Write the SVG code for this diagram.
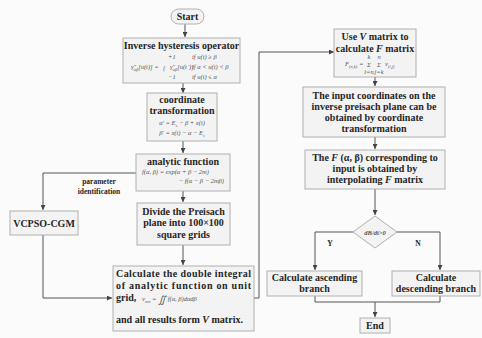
<svg xmlns="http://www.w3.org/2000/svg" width="482" height="338" viewBox="0 0 482 338">
  <defs>
    <marker id="arr" viewBox="0 0 6 6" refX="6" refY="3" markerWidth="5" markerHeight="5" markerUnits="userSpaceOnUse" orient="auto">
      <path d="M0,0 L6,3 L0,6 z" fill="#444"/>
    </marker>
    <style>
      .box { fill: #f3f3f3; stroke: #b0b0b0; stroke-width: 1; }
      .ln { fill: none; stroke: #555; stroke-width: 1; }
      .t { font-family: "Liberation Serif", "Times New Roman", serif; font-weight: bold; font-size: 10px; fill: #262626; text-anchor: middle; }
      .tl { font-family: "Liberation Serif", "Times New Roman", serif; font-weight: bold; font-size: 10px; fill: #262626; }
      .f { font-family: "Liberation Serif", "Times New Roman", serif; font-size: 6.5px; font-style: italic; fill: #555; }
      .fm { font-family: "Liberation Serif", "Times New Roman", serif; font-size: 6.5px; font-style: italic; fill: #555; text-anchor: middle; }
      .s { font-family: "Liberation Serif", "Times New Roman", serif; font-weight: bold; font-size: 7.5px; fill: #262626; text-anchor: middle; }
      .i { font-style: italic; }
    </style>
  </defs>
  <rect width="482" height="338" fill="#fbfbfb"/>

  <!-- connectors -->
  <g id="connectors">
    <line class="ln" x1="185" y1="24" x2="185" y2="37" marker-end="url(#arr)"/>
    <line class="ln" x1="183" y1="83" x2="183" y2="93" marker-end="url(#arr)"/>
    <line class="ln" x1="183" y1="141" x2="183" y2="153" marker-end="url(#arr)"/>
    <line class="ln" x1="183" y1="191" x2="183" y2="202" marker-end="url(#arr)"/>
    <line class="ln" x1="183" y1="245" x2="183" y2="265" marker-end="url(#arr)"/>
    <!-- parameter identification path -->
    <polyline class="ln" points="136,173 43,173 43,210" marker-end="url(#arr)"/>
    <polyline class="ln" points="43,235 43,298 112,298" marker-end="url(#arr)"/>
    <!-- V matrix hand-over to the right column -->
    <polyline class="ln" points="254,298 259,298 259,52 334,52" marker-end="url(#arr)"/>
    <line class="ln" x1="375" y1="77" x2="375" y2="86" marker-end="url(#arr)"/>
    <line class="ln" x1="375" y1="137" x2="375" y2="149" marker-end="url(#arr)"/>
    <line class="ln" x1="375" y1="189" x2="375" y2="215" marker-end="url(#arr)"/>
    <polyline class="ln" points="353,232 315,232 315,270" marker-end="url(#arr)"/>
    <polyline class="ln" points="397,232 440,232 440,270" marker-end="url(#arr)"/>
    <polyline class="ln" points="315,296 315,302 440,302 440,296"/>
    <line class="ln" x1="375" y1="302" x2="375" y2="317" marker-end="url(#arr)"/>
    <text class="s" x="99" y="184">parameter</text>
    <text class="s" x="99" y="194">identification</text>
    <text class="s" x="330" y="246" font-size="8.5">Y</text>
    <text class="s" x="418" y="246" font-size="8.5">N</text>
  </g>

  <g id="start">
    <rect class="box" x="171" y="9" width="33" height="15" rx="7.5"/>
    <text class="t" x="187.5" y="20">Start</text>
  </g>

  <g id="inverse-operator">
    <rect class="box" x="123" y="38" width="117" height="45"/>
    <text class="t" x="181.5" y="49">Inverse hysteresis operator</text>
    <text class="f" x="168" y="59">+1</text>
    <text class="f" x="192" y="59">if u(t) ≥ β</text>
    <text class="f" x="131" y="69">γ̂<tspan font-size="4.5" dy="1.5">αβ</tspan><tspan dy="-1.5">[u(t)] =</tspan></text>
    <text class="f" x="163" y="70" font-size="13" font-style="normal">{</text>
    <text class="f" x="170" y="69">γ̂<tspan font-size="4.5" dy="1.5">αβ</tspan><tspan dy="-1.5">[u(t⁻)]</tspan></text>
    <text class="f" x="192" y="69">if α &lt; u(t) &lt; β</text>
    <text class="f" x="168" y="79">−1</text>
    <text class="f" x="192" y="79">if u(t) ≤ α</text>
  </g>

  <g id="coordinate-transformation">
    <rect class="box" x="147" y="93" width="70" height="48"/>
    <text class="t" x="182" y="103">coordinate</text>
    <text class="t" x="182" y="114">transformation</text>
    <text class="fm" x="182" y="125">α′ = E<tspan font-size="4.5" dy="1.5">s</tspan><tspan dy="-1.5"> − β + x(t)</tspan></text>
    <text class="fm" x="182" y="135">β′ = x(t) − α − E<tspan font-size="4.5" dy="1.5">s</tspan></text>
  </g>

  <g id="analytic-function">
    <rect class="box" x="136" y="154" width="94" height="37"/>
    <text class="t" x="183" y="165">analytic function</text>
    <text class="f" x="142" y="174">f(α, β) = exp(α + β − 2m)</text>
    <text class="f" x="224" y="183" text-anchor="end">− f(α − β − 2mβ)</text>
  </g>

  <g id="divide-plane">
    <rect class="box" x="137" y="203" width="93" height="42"/>
    <text class="t" x="183.5" y="215">Divide the Preisach</text>
    <text class="t" x="183.5" y="226">plane into 100×100</text>
    <text class="t" x="183.5" y="238">square grids</text>
  </g>

  <g id="double-integral">
    <rect class="box" x="113" y="266" width="141" height="65"/>
    <text class="tl" x="116" y="277" textLength="135" lengthAdjust="spacing">Calculate the double integral</text>
    <text class="tl" x="116" y="289" textLength="135" lengthAdjust="spacing">of analytic function on unit</text>
    <text class="tl" x="116" y="301">grid,</text>
    <text class="f" x="142" y="301">v<tspan font-size="4.5" dy="1.5">mn</tspan><tspan dy="-1.5"> = </tspan><tspan font-size="10" dy="2">∬</tspan><tspan dy="-2"> f(α, β)dαdβ</tspan></text>
    <text class="tl" x="116" y="323" textLength="127" lengthAdjust="spacingAndGlyphs">and all results form <tspan class="i">V</tspan> matrix.</text>
  </g>

  <g id="vcpso-cgm">
    <rect class="box" x="10" y="211" width="68" height="24"/>
    <text class="t" x="44" y="226.5" font-size="9.5">VCPSO-CGM</text>
  </g>

  <g id="use-v-matrix">
    <rect class="box" x="334" y="29" width="82" height="48"/>
    <text class="t" x="375" y="40">Use <tspan class="i">V</tspan> matrix to</text>
    <text class="t" x="375" y="52">calculate <tspan class="i">F</tspan> matrix</text>
    <text class="f" x="345" y="66">F<tspan font-size="4.5" dy="1.5">(n,k)</tspan><tspan dy="-1.5"> =</tspan></text>
    <text class="fm" x="369" y="67" font-size="8" font-style="normal">Σ</text>
    <text class="fm" x="379" y="67" font-size="8" font-style="normal">Σ</text>
    <text class="fm" x="369" y="58.5" font-size="3.5">k</text>
    <text class="fm" x="379" y="58.5" font-size="3.5">n</text>
    <text class="fm" x="369" y="73.5" font-size="3.5">i=n</text>
    <text class="fm" x="379" y="73.5" font-size="3.5">j=k</text>
    <text class="f" x="385" y="66">v<tspan font-size="4.5" dy="1.5">(i,j)</tspan></text>
  </g>

  <g id="input-coordinates">
    <rect class="box" x="303" y="87" width="142" height="50"/>
    <text class="t" x="374" y="99">The input coordinates on the</text>
    <text class="t" x="374" y="110">inverse preisach plane can be</text>
    <text class="t" x="374" y="121">obtained by coordinate</text>
    <text class="t" x="374" y="132">transformation</text>
  </g>

  <g id="interpolate">
    <rect class="box" x="305" y="150" width="140" height="39"/>
    <text class="t" x="375" y="161">The <tspan class="i">F</tspan> (α, β) corresponding to</text>
    <text class="t" x="375" y="172">input is obtained by</text>
    <text class="t" x="375" y="183">interpolating <tspan class="i">F</tspan> matrix</text>
  </g>

  <g id="decision">
    <polygon class="box" points="375,216 397,232 375,248 353,232"/>
    <text class="fm" x="375" y="234.5" font-size="8" font-weight="bold" fill="#333">dB/dt&gt;0</text>
  </g>

  <g id="ascending">
    <rect class="box" x="267" y="271" width="95" height="25"/>
    <text class="t" x="314.5" y="281">Calculate ascending</text>
    <text class="t" x="314.5" y="292">branch</text>
  </g>

  <g id="descending">
    <rect class="box" x="392" y="271" width="88" height="25"/>
    <text class="t" x="436" y="281">Calculate</text>
    <text class="t" x="436" y="292">descending branch</text>
  </g>

  <g id="end">
    <rect class="box" x="360" y="318" width="30" height="15"/>
    <text class="t" x="375" y="329">End</text>
  </g>
</svg>
